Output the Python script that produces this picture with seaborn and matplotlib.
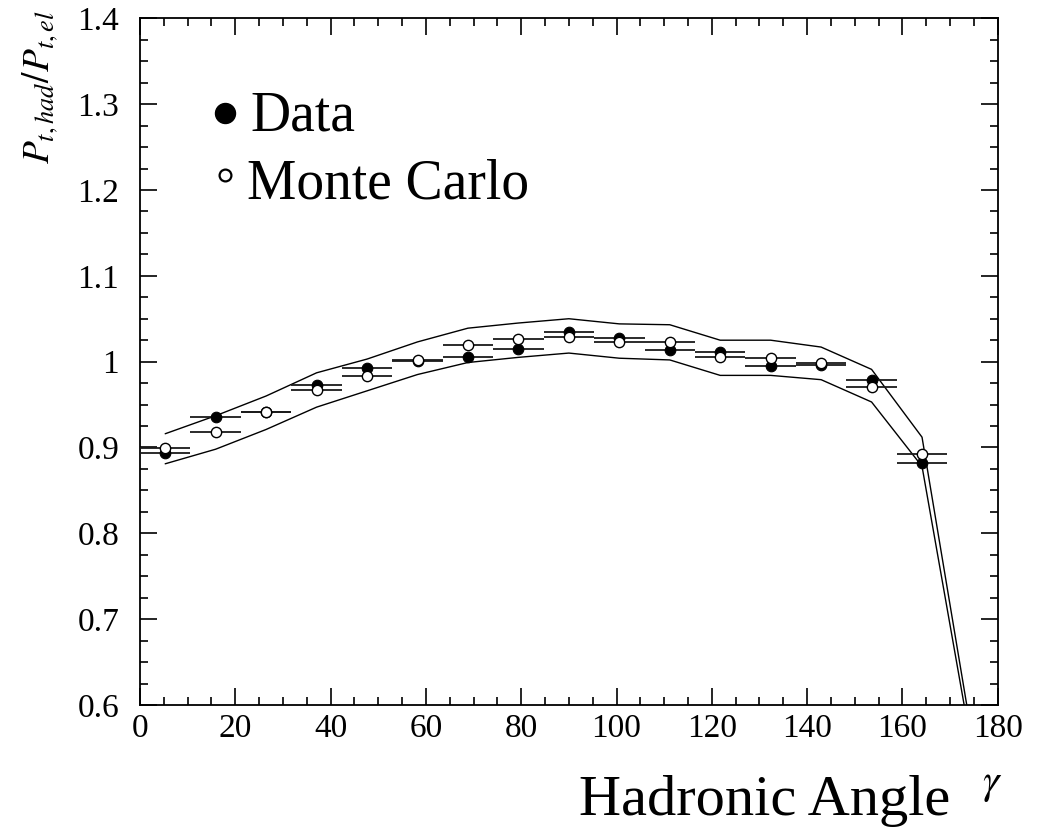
import matplotlib
matplotlib.use("Agg")
import matplotlib.pyplot as plt
import numpy as np
import pandas as pd
import seaborn as sns
from matplotlib.ticker import MultipleLocator, FuncFormatter

# Hadronic angle bins (degrees): 17 bins of equal width over 0-180
bin_centers = [5.29, 15.88, 26.47, 37.06, 47.65, 58.24, 68.82, 79.41, 90.00,
               100.59, 111.18, 121.76, 132.35, 142.94, 153.53, 164.12, 174.71]
bin_half_width = 5.29

# Pt balance ratio per bin
data_ratio = [0.893, 0.936, 0.941, 0.973, 0.993, 1.001, 1.005, 1.015, 1.035,
              1.028, 1.013, 1.011, 0.995, 0.996, 0.979, 0.882]
mc_ratio = [0.899, 0.918, 0.941, 0.967, 0.983, 1.002, 1.019, 1.026, 1.029,
            1.023, 1.023, 1.005, 1.004, 0.998, 0.971, 0.892]

# Systematic band
band_upper = [0.916, 0.937, 0.960, 0.987, 1.003, 1.023, 1.039, 1.045, 1.050,
              1.044, 1.043, 1.025, 1.025, 1.017, 0.991, 0.912, 0.560]
band_lower = [0.881, 0.898, 0.921, 0.947, 0.966, 0.985, 0.999, 1.005, 1.010,
              1.004, 1.002, 0.984, 0.984, 0.979, 0.953, 0.878, 0.545]

x_ticks = [0, 20, 40, 60, 80, 100, 120, 140, 160, 180]
y_ticks = [0.6, 0.7, 0.8, 0.9, 1.0, 1.1, 1.2, 1.3, 1.4]

sns.set_theme(style="ticks")
plt.rcParams["font.family"] = ["Liberation Serif", "DejaVu Serif"]
plt.rcParams["mathtext.fontset"] = "stix"
plt.rcParams["text.color"] = "black"
plt.rcParams["xtick.color"] = "black"
plt.rcParams["ytick.color"] = "black"
plt.rcParams["axes.edgecolor"] = "black"

fig = plt.figure(figsize=(10.44, 8.35), dpi=100)
ax = fig.add_axes([140 / 1044, 1 - 705 / 835, 857.7 / 1044, 686.7 / 835])

n = len(data_ratio)
pts = pd.DataFrame({
    "angle": bin_centers[:n] * 2,
    "ratio": data_ratio + mc_ratio,
    "sample": ["Data"] * n + ["Monte Carlo"] * n,
})
band = pd.DataFrame({
    "angle": bin_centers * 2,
    "ratio": band_upper + band_lower,
    "edge": ["upper"] * len(band_upper) + ["lower"] * len(band_lower),
})

# band edges
sns.lineplot(data=band, x="angle", y="ratio", units="edge", estimator=None,
             sort=False, color="black", linewidth=1.0, ax=ax, legend=False)

# horizontal bin-width bars
for name in ["Monte Carlo", "Data"]:
    sub = pts[pts["sample"] == name]
    ax.errorbar(sub["angle"], sub["ratio"], xerr=bin_half_width, fmt="none",
                ecolor="#1a1a1a", elinewidth=1.3, capsize=0, zorder=3)

sns.scatterplot(data=pts[pts["sample"] == "Data"], x="angle", y="ratio",
                color="black", edgecolor="black", s=58, linewidth=0.8,
                ax=ax, legend=False, zorder=4)
sns.scatterplot(data=pts[pts["sample"] == "Monte Carlo"], x="angle", y="ratio",
                color="white", edgecolor="black", s=55, linewidth=1.0,
                ax=ax, legend=False, zorder=5)

ax.set_xlim(0, 180)
ax.set_ylim(0.6, 1.4)
ax.set_xticks(x_ticks)
ax.set_yticks(y_ticks)
ax.xaxis.set_minor_locator(MultipleLocator(5))
ax.yaxis.set_minor_locator(MultipleLocator(0.025))
ax.yaxis.set_major_formatter(FuncFormatter(lambda v, p: f"{v:g}"))
ax.tick_params(which="both", direction="in", top=True, right=True,
               color="black", width=1.2)
ax.tick_params(which="major", length=12)
ax.tick_params(which="minor", length=6)
ax.tick_params(axis="x", which="major", labelsize=24, pad=6)
ax.tick_params(axis="y", which="major", labelsize=24, pad=15)
for sp in ax.spines.values():
    sp.set_linewidth(1.3)
    sp.set_color("black")
ax.set_xlabel("")
ax.set_ylabel("")

# key
ax.plot([0.0991], [0.862], "o", color="black", markersize=14.4,
        transform=ax.transAxes, clip_on=False)
ax.text(0.1283, 0.8373, "Data", transform=ax.transAxes, fontsize=40,
        va="baseline", ha="left")
ax.plot([0.0991], [0.7718], "o", markerfacecolor="white",
        markeredgecolor="black", markeredgewidth=1.6, markersize=8.5,
        transform=ax.transAxes, clip_on=False)
ax.text(0.1244, 0.7369, "Monte Carlo", transform=ax.transAxes, fontsize=40,
        va="baseline", ha="left")

# axis titles
fig.text(40 / 1044, 1 - 10 / 835, r"$P_{t,had}/P_{t,el}$", rotation=90,
         ha="center", va="top", fontsize=27)
fig.text(950 / 1044, 1 - 815 / 835, "Hadronic Angle", ha="right",
         va="baseline", fontsize=42)
fig.text(991.7 / 1044, 1 - 785 / 835, r"$\gamma$", ha="center", va="center",
         fontsize=30)

fig.savefig("out.png", dpi=100)
